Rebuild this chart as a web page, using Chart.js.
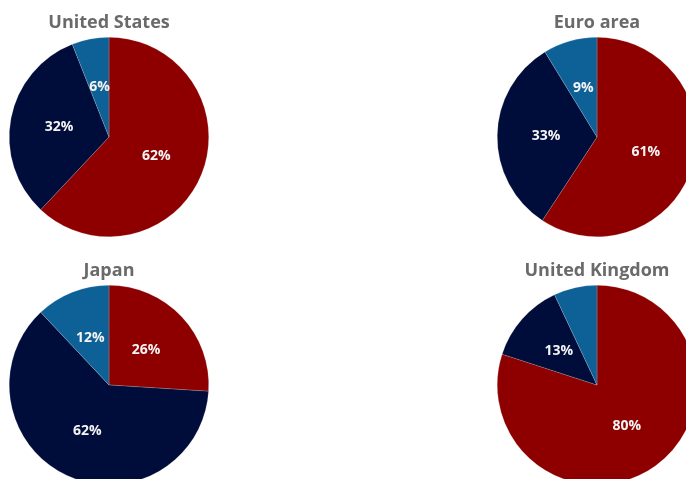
<!DOCTYPE html>
<html>
<head>
<meta charset="utf-8">
<script src="https://cdn.jsdelivr.net/npm/chart.js@4.4.1/dist/chart.umd.min.js"></script>
<style>
html,body{margin:0;padding:0;background:#fff;overflow:hidden;width:686px;height:479px;}
.box{position:absolute;width:218px;height:237px;}
</style>
</head>
<body>
<div class="box" style="left:0;top:0"><canvas id="c0"></canvas></div>
<div class="box" style="left:488px;top:0"><canvas id="c1"></canvas></div>
<div class="box" style="left:0;top:248px"><canvas id="c2"></canvas></div>
<div class="box" style="left:488px;top:248px"><canvas id="c3"></canvas></div>
<script>
const regions = ["United States", "Euro area", "Japan", "United Kingdom"];
const categories = ["Red share", "Navy share", "Blue share"];
const usValues = [62, 32, 6];
const euroValues = [61, 33, 9];
const japanValues = [26, 62, 12];
const ukValues = [80, 13, 7];
const showLabel = [[true,true,true],[true,true,true],[true,true,true],[true,true,false]];
const colors = ["#8e0000", "#000c3a", "#0d6196"];
const allValues = [usValues, euroValues, japanValues, ukValues];

const labelPlugin = {
  id: 'sliceLabels',
  afterDatasetsDraw(chart) {
    const ctx = chart.ctx;
    const meta = chart.getDatasetMeta(0);
    const ds = chart.data.datasets[0];
    const idx = chart.options.plugins.sliceLabels.idx;
    ctx.save();
    ctx.fillStyle = '#f4f4f4';
    ctx.font = 'bold 14px "Open Sans"';
    ctx.textAlign = 'center';
    ctx.textBaseline = 'middle';
    meta.data.forEach((arc, i) => {
      if (!showLabel[idx][i]) return;
      const mid = (arc.startAngle + arc.endAngle) / 2;
      const r = arc.outerRadius * 0.51;
      const x = arc.x + Math.cos(mid) * r;
      const y = arc.y + Math.sin(mid) * r;
      ctx.fillText(ds.data[i] + '%', x, y);
    });
    ctx.restore();
  }
};

allValues.forEach((vals, k) => {
  new Chart(document.getElementById('c' + k), {
    type: 'pie',
    data: {
      labels: categories,
      datasets: [{
        data: vals,
        backgroundColor: colors,
        borderColor: 'rgba(255,255,255,0.35)',
        borderWidth: 0.5
      }]
    },
    options: {
      responsive: true,
      maintainAspectRatio: false,
      animation: false,
      layout: { padding: 0 },
      plugins: {
        legend: { display: false },
        tooltip: { enabled: false },
        title: {
          display: true,
          text: regions[k],
          color: '#6a6a6a',
          font: { family: '"Open Sans"', size: 18, weight: 'bold', lineHeight: 1.2 },
          padding: { top: 12, bottom: 3.4 }
        },
        sliceLabels: { idx: k }
      }
    },
    plugins: [labelPlugin]
  });
});
</script>
</body>
</html>
